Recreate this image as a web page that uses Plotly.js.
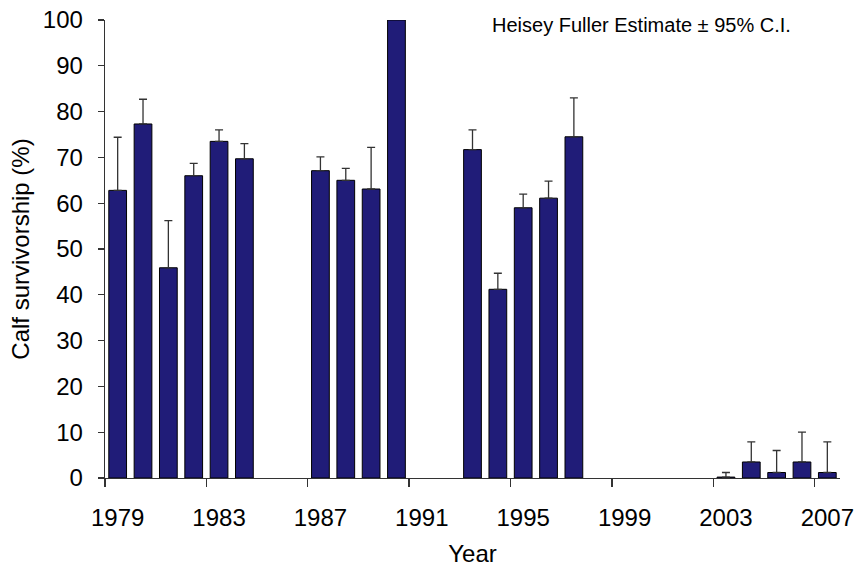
<!DOCTYPE html>
<html>
<head>
<meta charset="utf-8">
<script src="https://cdn.plot.ly/plotly-3.0.1.min.js"></script>
<style>
  html, body { margin: 0; padding: 0; background: #ffffff; }
  #chart { width: 854px; height: 567px; }
</style>
</head>
<body>
<div id="chart"></div>
<script>
// Calf survivorship by year (Heisey-Fuller estimate) with upper 95% confidence limit
const years = [1979, 1980, 1981, 1982, 1983, 1984, 1987, 1988, 1989, 1990,
               1993, 1994, 1995, 1996, 1997, 2003, 2004, 2005, 2006, 2007];
const survival = [62.8, 77.3, 45.9, 66.0, 73.5, 69.7, 67.1, 65.0, 63.1, 100,
                  71.7, 41.2, 59.0, 61.1, 74.5, 0.2, 3.5, 1.2, 3.5, 1.2];
const ciUpper = [74.4, 82.7, 56.2, 68.7, 76.0, 73.0, 70.1, 67.6, 72.2, null,
                 76.0, 44.7, 62.0, 64.8, 83.0, 1.2, 7.9, 6.0, 10.0, 7.9];

// Axis labelling
const tickYears = [1979, 1983, 1987, 1991, 1995, 1999, 2003, 2007];
const yTicks = [0, 10, 20, 30, 40, 50, 60, 70, 80, 90, 100];
const firstYear = 1979;
const lastYear = 2007;

// Only the upper side of the interval is shown
const errPlus = survival.map((v, i) => ciUpper[i] == null ? NaN : ciUpper[i] - v);
const errMinus = survival.map(() => NaN);

// Tick marks sit on the category boundaries, labels on the category centres
const boundaryTicks = tickYears.map(y => y - 0.5);

const FONT = 'Liberation Sans, Arial, Helvetica, sans-serif';
const xRange = [firstYear - 0.5, lastYear + 0.5];

const trace = {
  type: 'bar',
  x: years,
  y: survival,
  width: 0.7,
  marker: { color: '#201C78', line: { color: '#000000', width: 1 } },
  error_y: {
    type: 'data',
    symmetric: false,
    array: errPlus,
    arrayminus: errMinus,
    color: '#333333',
    thickness: 1.3,
    width: 4
  },
  hoverinfo: 'x+y',
  showlegend: false
};

const layout = {
  width: 854,
  height: 567,
  margin: { l: 105, r: 14, t: 20, b: 89 },
  paper_bgcolor: '#ffffff',
  plot_bgcolor: '#ffffff',
  font: { family: FONT, size: 24, color: '#000000' },
  showlegend: false,
  xaxis: {
    range: xRange,
    tickmode: 'array',
    tickvals: tickYears,
    ticktext: tickYears.map(String),
    ticks: 'outside',
    ticklen: 8,
    tickcolor: 'rgba(0,0,0,0)',
    ticklabelstandoff: 10,
    ticklabeloverflow: 'allow',
    showline: true,
    linecolor: '#333333',
    linewidth: 1.3,
    showgrid: false,
    zeroline: false,
    fixedrange: true,
    title: { text: 'Year', font: { family: FONT, size: 24 }, standoff: 16 }
  },
  xaxis2: {
    overlaying: 'x',
    anchor: 'y',
    side: 'bottom',
    range: xRange,
    tickmode: 'array',
    tickvals: boundaryTicks,
    showticklabels: false,
    ticks: 'outside',
    ticklen: 8,
    tickwidth: 1.3,
    tickcolor: '#333333',
    showline: false,
    showgrid: false,
    zeroline: false,
    fixedrange: true
  },
  yaxis: {
    range: [0, 100],
    tickmode: 'array',
    tickvals: yTicks,
    ticks: 'outside',
    ticklen: 6,
    tickwidth: 1.3,
    tickcolor: '#333333',
    ticklabelstandoff: 10,
    showline: true,
    linecolor: '#333333',
    linewidth: 1.3,
    showgrid: false,
    zeroline: false,
    fixedrange: true,
    title: { text: 'Calf survivorship (%)', font: { family: FONT, size: 24 }, standoff: 6 }
  },
  annotations: [{
    text: 'Heisey Fuller Estimate ± 95% C.I.',
    xref: 'paper', yref: 'paper',
    x: 0.73, y: 0.989,
    xanchor: 'center', yanchor: 'middle',
    showarrow: false,
    font: { family: FONT, size: 20, color: '#000000' }
  }]
};

Plotly.newPlot('chart', [trace, { type: 'scatter', x: [], y: [], xaxis: 'x2', yaxis: 'y', showlegend: false, hoverinfo: 'skip' }], layout, { displayModeBar: false, staticPlot: true });
</script>
</body>
</html>
